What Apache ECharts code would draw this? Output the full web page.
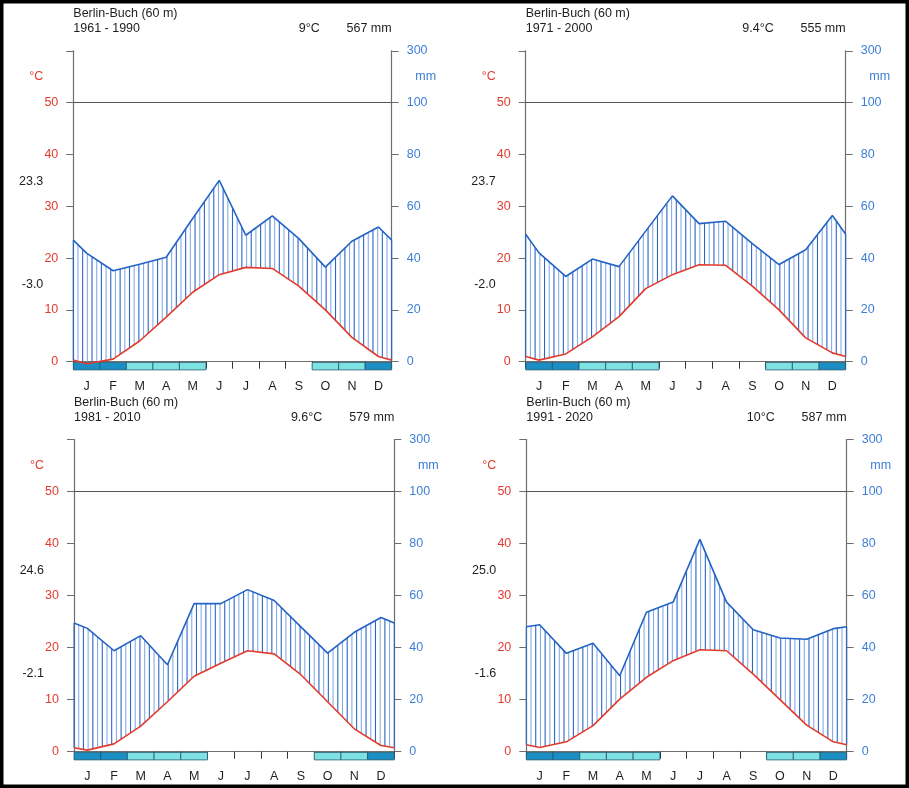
<!DOCTYPE html>
<html><head><meta charset="utf-8">
<script src="https://cdn.jsdelivr.net/npm/echarts@6/dist/echarts.min.js"></script>
<style>html,body{margin:0;padding:0;background:#fff}#c{width:909px;height:788px}</style>
</head><body><div id="c"></div>
<script>
// ---------- data ----------
const months = ['J','F','M','A','M','J','J','A','S','O','N','D'];
const station = 'Berlin-Buch (60 m)';
const periods = ['1961 - 1990','1971 - 2000','1981 - 2010','1991 - 2020'];
const meanTemps = ['9°C','9.4°C','9.6°C','10°C'];
const precipTotals = ['567 mm','555 mm','579 mm','587 mm'];
const maxTempLabels = ['23.3','23.7','24.6','25.0'];
const minTempLabels = ['-3.0','-2.0','-2.1','-1.6'];

const temp1961_1990 = [-0.4, 0.5, 4.0, 8.6, 13.4, 16.8, 18.2, 18.0, 14.6, 10.0, 4.7, 1.0];
const prec1961_1990 = [41.9, 35.1, 37.6, 40.3, 55.3, 70.0, 48.8, 56.3, 47.5, 36.5, 46.5, 52.0];
const temp1971_2000 = [0.3, 1.5, 4.8, 8.7, 14.1, 16.8, 18.7, 18.6, 14.6, 10.0, 4.6, 1.7];
const prec1971_2000 = [42.0, 32.9, 39.6, 36.7, 50.4, 64.0, 53.3, 54.2, 45.6, 37.5, 43.2, 56.4];
const temp1981_2010 = [0.3, 1.5, 4.9, 9.6, 14.5, 17.0, 19.4, 18.8, 14.8, 9.6, 4.4, 1.2];
const prec1981_2010 = [47.4, 38.8, 44.6, 33.4, 56.9, 56.9, 62.3, 58.1, 48.0, 37.9, 45.9, 51.6];
const temp1991_2020 = [0.8, 1.9, 5.0, 10.1, 14.3, 17.5, 19.6, 19.4, 14.9, 10.0, 5.1, 1.9];
const prec1991_2020 = [48.8, 37.8, 41.7, 29.2, 53.6, 57.5, 81.6, 57.5, 46.9, 43.7, 43.2, 47.3];
// 2 = certain frost (dark), 1 = probable frost (light), 0 = none
const frost1961_1990 = [2,2,1,1,1,0,0,0,0,1,1,2];
const frost1971_2000 = [2,2,1,1,1,0,0,0,0,1,1,2];
const frost1981_2010 = [2,2,1,1,1,0,0,0,0,1,1,2];
const frost1991_2020 = [2,2,1,1,1,0,0,0,0,1,1,2];

const tempTickLabels = ['0','10','20','30','40','50',''];
const precTickLabels = ['0','20','40','60','80','100','300'];

const temps = [temp1961_1990, temp1971_2000, temp1981_2010, temp1991_2020];
const precs = [prec1961_1990, prec1971_2000, prec1981_2010, prec1991_2020];
const frosts = [frost1961_1990, frost1971_2000, frost1981_2010, frost1991_2020];

// ---------- layout / style ----------
const grids = [
  {left: 73.3, top: 50.8, width: 318.4, height: 310.9},
  {left: 525.7, top: 50.8, width: 320.0, height: 310.9},
  {left: 74.0, top: 439.5, width: 320.3, height: 312.2},
  {left: 526.3, top: 439.5, width: 320.4, height: 312.2}
];
const FONT = 'Liberation Sans, Arial, Helvetica, sans-serif';
const RED = '#e23b2e', BLUE = '#2463c6', LBLUE = '#3d7fd6', AXIS = '#6e6e6e', TXT = '#1e1e1e';

// Walter-Lieth scaling: 20 mm = 10 °C up to 100 mm, compressed above
function precToUnits(mm) { return mm <= 100 ? mm / 2 : 50 + (mm - 100) / 20; }
function withEdges(arr, f) {
  const edge = f((arr[0] + arr[11]) / 2);
  return [[0, edge]].concat(arr.map((v, i) => [i + 0.5, f(v)])).concat([[12, edge]]);
}
function interp(pts, x) {
  for (let i = 0; i < pts.length - 1; i++) {
    const a = pts[i], b = pts[i + 1];
    if (x >= a[0] && x <= b[0]) return a[1] + (b[1] - a[1]) * (x - a[0]) / (b[0] - a[0]);
  }
  return pts[pts.length - 1][1];
}

const option = {
  backgroundColor: '#fff',
  animation: false,
  grid: grids.map(g => Object.assign({containLabel: false}, g)),
  xAxis: [], yAxis: [], series: [], graphic: []
};

grids.forEach((g, k) => {
  option.xAxis.push({type: 'value', gridIndex: k, min: 0, max: 12, show: false});
  option.xAxis.push({
    type: 'category', gridIndex: k, data: months, boundaryGap: true, position: 'bottom',
    axisLine: {show: true, lineStyle: {color: AXIS, width: 1.2}},
    axisTick: {show: true, length: 7, alignWithLabel: false, lineStyle: {color: '#333'}},
    axisLabel: {margin: 18, color: TXT, fontSize: 12.5, fontFamily: FONT},
    splitLine: {show: false}
  });
  option.yAxis.push({
    type: 'value', gridIndex: k, min: 0, max: 60, interval: 10, position: 'left',
    axisLine: {show: true, lineStyle: {color: AXIS, width: 1.2}},
    axisTick: {show: true, length: 7, lineStyle: {color: AXIS}},
    axisLabel: {margin: 15, color: RED, fontSize: 12.5, fontFamily: FONT,
                formatter: v => tempTickLabels[Math.round(v / 10)]},
    splitLine: {show: false}
  });
  option.yAxis.push({
    type: 'value', gridIndex: k, min: 0, max: 60, interval: 10, position: 'right',
    axisLine: {show: true, lineStyle: {color: AXIS, width: 1.2}},
    axisTick: {show: true, length: 7, lineStyle: {color: AXIS}},
    axisLabel: {margin: 15, color: LBLUE, fontSize: 12.5, fontFamily: FONT,
                formatter: v => precTickLabels[Math.round(v / 10)]},
    splitLine: {show: false}
  });

  const xi = 2 * k, yi = 2 * k;
  const tPts = withEdges(temps[k], v => v);
  const pPts = withEdges(precs[k], precToUnits);

  // humid-period hatching
  option.series.push({
    type: 'custom', xAxisIndex: xi, yAxisIndex: yi, data: [[0]], silent: true, z: 1,
    renderItem: function (params, api) {
      const N = 68, children = [];
      for (let j = 0; j <= N; j++) {
        const x = 12 * j / N;
        const p = interp(pPts, x), t = Math.max(0, interp(tPts, x));
        if (p > t) {
          const a = api.coord([x, t]), b = api.coord([x, p]);
          children.push({type: 'line', shape: {x1: a[0], y1: a[1], x2: b[0], y2: b[1]},
            style: {stroke: j % 2 ? '#88ade6' : '#2b66c6', lineWidth: 1.1}});
        }
      }
      return {type: 'group', children: children};
    }
  });
  // frost boxes
  option.series.push({
    type: 'custom', xAxisIndex: xi, yAxisIndex: yi, silent: true, z: 3,
    data: frosts[k].map((c, i) => [i, c]),
    renderItem: function (params, api) {
      const i = api.value(0), c = api.value(1);
      if (!c) return null;
      const a = api.coord([i, 0]), b = api.coord([i + 1, 0]);
      return {type: 'rect', shape: {x: a[0], y: a[1] + 0.8, width: b[0] - a[0], height: 7.4},
        style: {fill: c === 2 ? '#1b8ec4' : '#7ee2e2', stroke: '#245a72', lineWidth: 0.8}};
    }
  });
  option.series.push({
    type: 'line', xAxisIndex: xi, yAxisIndex: yi, data: pPts, symbol: 'none', z: 4,
    lineStyle: {color: BLUE, width: 1.6}, silent: true
  });
  option.series.push({
    type: 'line', xAxisIndex: xi, yAxisIndex: yi, data: tPts, symbol: 'none', clip: false, z: 5,
    lineStyle: {color: RED, width: 1.6}, silent: true,
    markLine: {silent: true, symbol: 'none', label: {show: false},
      lineStyle: {color: '#555', type: 'solid', width: 1.2}, data: [{yAxis: 50}]}
  });

  const L = g.left, R = g.left + g.width, T = g.top;
  const txt = (text, x, y, align, color) => ({
    type: 'text', x: x, y: y, silent: true,
    style: {text: text, fill: color || TXT, font: '12.5px ' + FONT, textAlign: align,
            verticalAlign: 'middle', textVerticalAlign: 'middle'}
  });
  option.graphic.push(txt(station, L, T - 37, 'left'));
  option.graphic.push(txt(periods[k], L, T - 22, 'left'));
  option.graphic.push(txt(meanTemps[k], R - 72, T - 22, 'right'));
  option.graphic.push(txt(precipTotals[k], R, T - 22, 'right'));
  option.graphic.push(txt('°C', L - 37, T + 26, 'center', RED));
  option.graphic.push(txt('mm', R + 34, T + 26, 'center', LBLUE));
  option.graphic.push(txt(maxTempLabels[k], L - 30, T + 131, 'right'));
  option.graphic.push(txt(minTempLabels[k], L - 30, T + 234, 'right'));
});

option.graphic.push({type: 'rect', silent: true, shape: {x: 1.75, y: 1.75, width: 905.5, height: 784.5},
  style: {fill: null, stroke: '#000', lineWidth: 3.5}});

const chart = echarts.init(document.getElementById('c'), null, {renderer: 'canvas'});
chart.setOption(option);
</script></body></html>
